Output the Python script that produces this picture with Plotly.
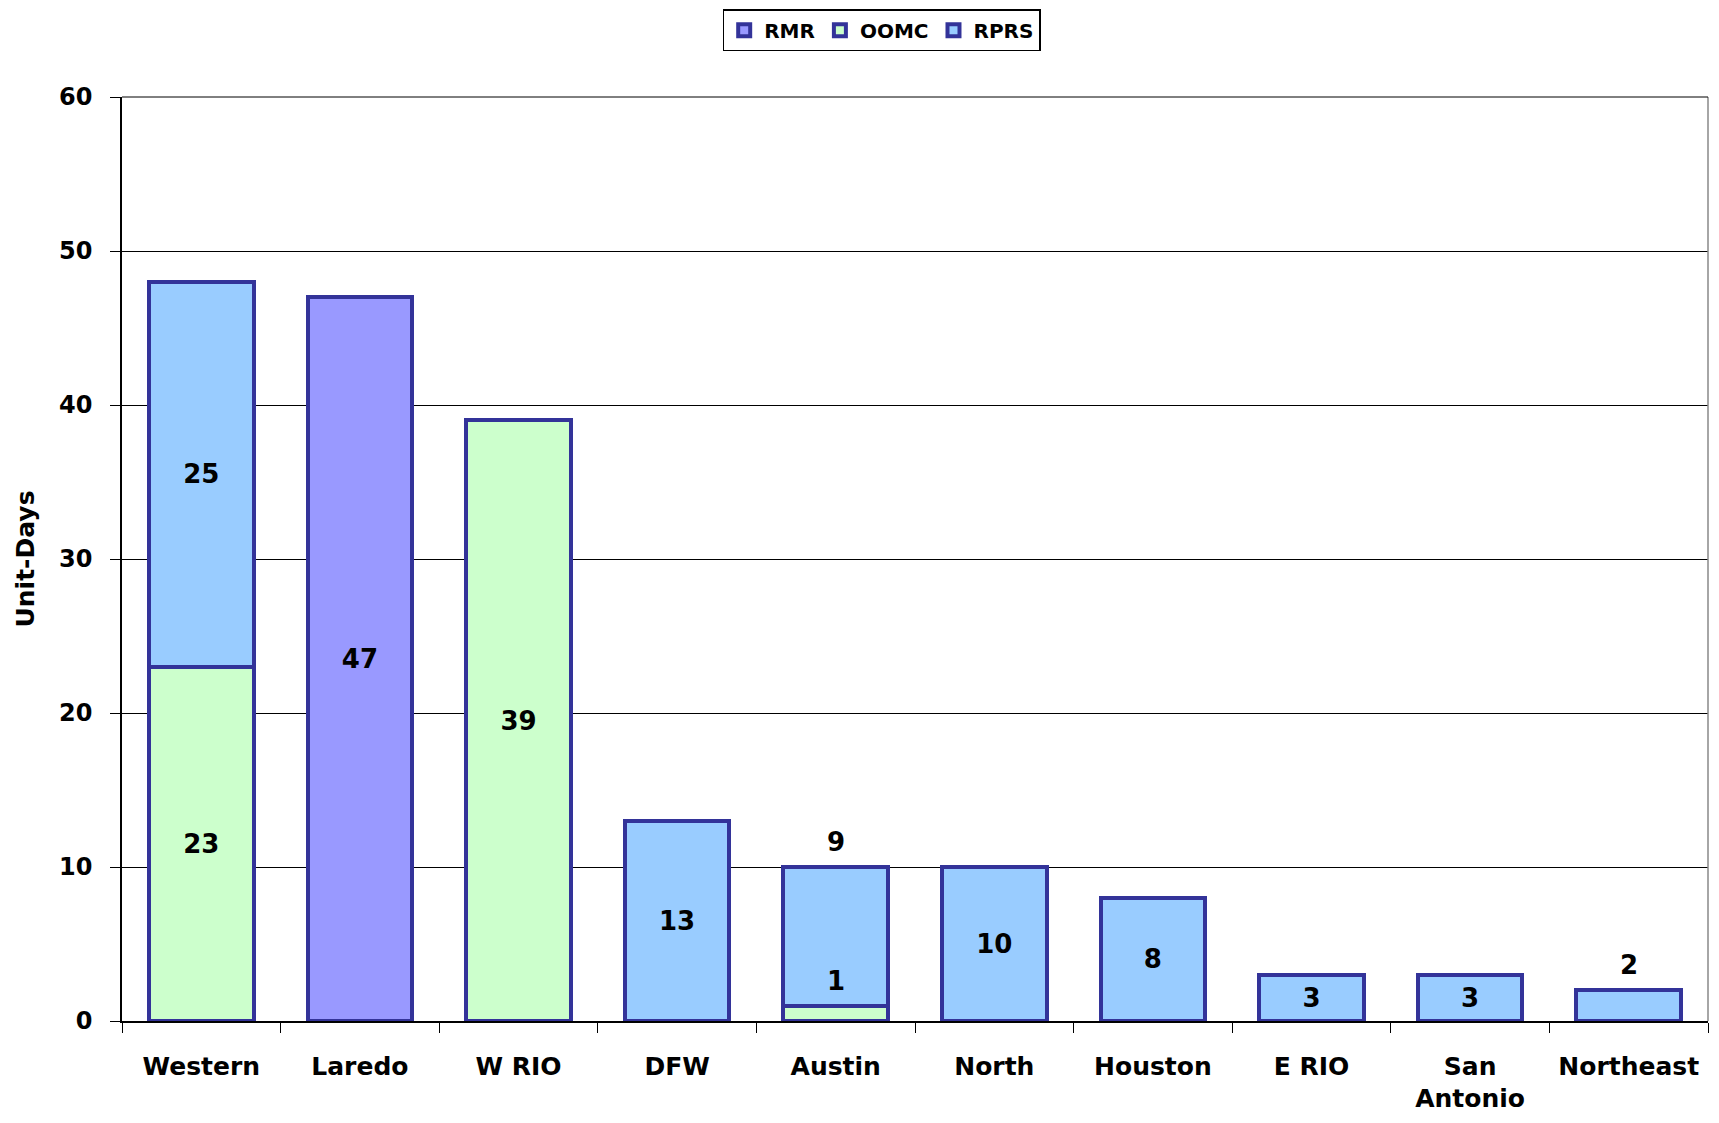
import plotly.graph_objects as go

categories = ["Western", "Laredo", "W RIO", "DFW", "Austin", "North",
              "Houston", "E RIO", "San<br>Antonio", "Northeast"]
rmr = [None, 47, None, None, None, None, None, None, None, None]
oomc = [23, None, 39, None, 1, None, None, None, None, None]
rprs = [25, None, None, 13, 9, 10, 8, 3, 3, 2]
# labels drawn above their segment instead of inside (as in the source chart)
above_labels = {("OOMC", "Austin"), ("RPRS", "Austin"), ("RPRS", "Northeast")}

series = [("RMR", rmr, "#9999FF"), ("OOMC", oomc, "#CCFFCC"), ("RPRS", rprs, "#99CCFF")]

FONT = "DejaVu Sans"
LABEL_FONT = dict(family=FONT, size=26, color="black", weight="bold")
fig = go.Figure()
annotations = []
base = [0] * len(categories)
for name, vals, color in series:
    texts = []
    for i, v in enumerate(vals):
        cat = categories[i]
        if v is None:
            texts.append("")
            continue
        if (name, cat) in above_labels:
            texts.append("")
            annotations.append(dict(x=cat, y=base[i] + v, xref="x", yref="y",
                                    text=str(v), showarrow=False, yanchor="middle",
                                    yshift=25, font=LABEL_FONT))
        else:
            texts.append(str(v))
        base[i] += v
    fig.add_trace(go.Bar(
        name=name, x=categories, y=vals, text=texts,
        textposition="inside", insidetextanchor="middle", textangle=0,
        textfont=LABEL_FONT,
        marker=dict(color=color, line=dict(color="#333399", width=4)),
        cliponaxis=False,
    ))

# the page body adds an 8px offset, so the figure is sized to fit inside it
fig.update_layout(
    width=1703, height=1107,
    barmode="stack", bargap=0.34,
    paper_bgcolor="white", plot_bgcolor="white",
    margin=dict(l=114, r=3, t=89, b=94, autoexpand=False),
    font=dict(family=FONT, color="black"),
    legend=dict(orientation="h", x=0.479, xanchor="center", y=1.095, yanchor="top",
                bordercolor="black", borderwidth=1.5, bgcolor="white",
                font=dict(family=FONT, size=20, weight="bold"), traceorder="normal"),
    annotations=annotations,
    shapes=[
        dict(type="line", xref="x domain", yref="y domain", x0=1, x1=1, y0=0, y1=1,
             line=dict(color="#888888", width=1.5)),
        dict(type="line", xref="x domain", yref="y domain", x0=0, x1=1, y0=1, y1=1,
             line=dict(color="black", width=1)),
    ],
)
fig.update_yaxes(range=[0, 60], dtick=10, showgrid=True, gridcolor="black", gridwidth=1,
                 showline=True, linecolor="black", linewidth=1.5,
                 ticks="outside", ticklen=10, tickcolor="black",
                 tickfont=dict(family=FONT, size=24, weight="bold"), ticklabelstandoff=13,
                 title=dict(text="Unit-Days", font=dict(family=FONT, size=25, weight="bold"),
                            standoff=17),
                 zeroline=False)
fig.update_xaxes(showline=True, linecolor="black", linewidth=1.5,
                 ticks="outside", ticklen=10, tickcolor="black", tickson="boundaries",
                 tickfont=dict(family=FONT, size=25, weight="bold"), ticklabelstandoff=22)

fig.write_html("out.html")
